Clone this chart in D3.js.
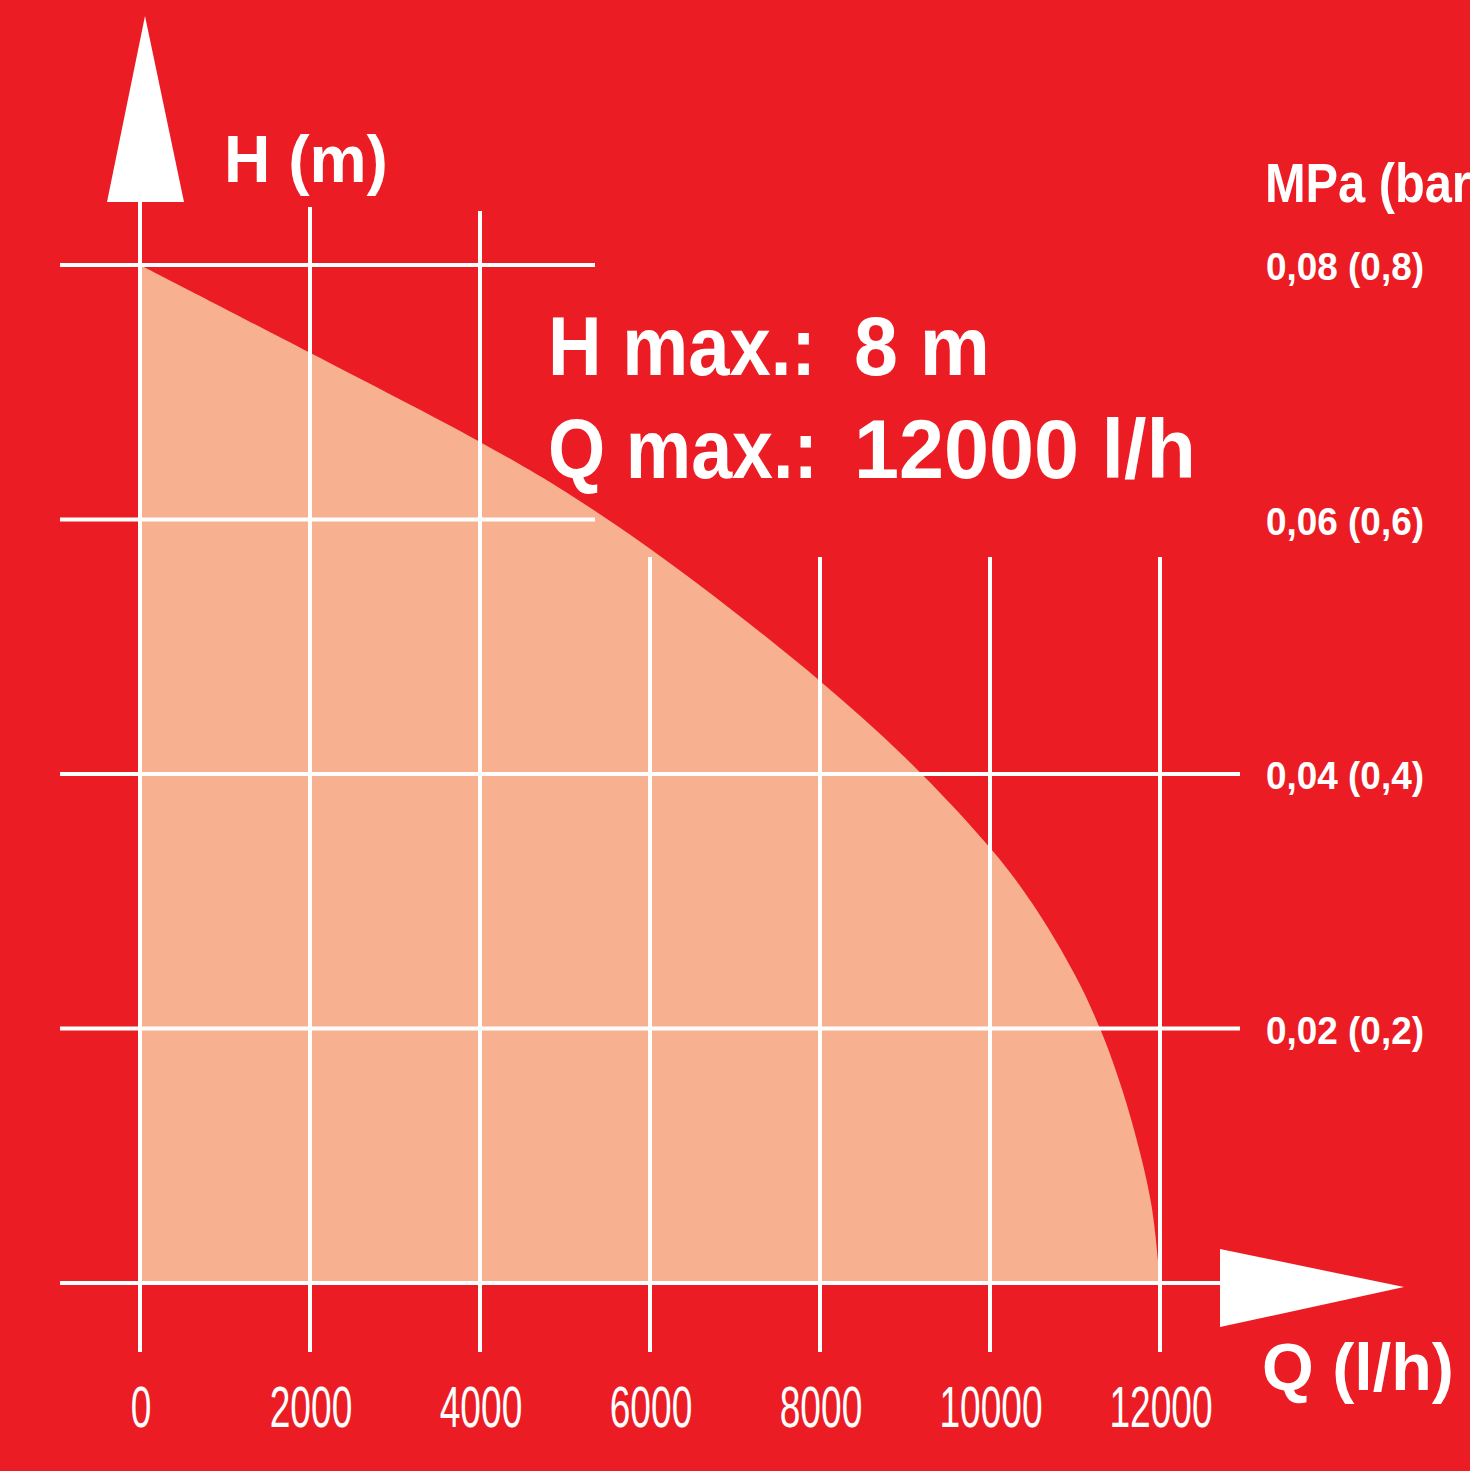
<!DOCTYPE html>
<html>
<head>
<meta charset="utf-8">
<script src="https://cdn.jsdelivr.net/npm/d3@7/dist/d3.min.js"></script>
<style>
  html, body { margin: 0; padding: 0; background: #EC1C24; }
  svg { display: block; }
  text { fill: #fff; font-family: "Liberation Sans", Arial, sans-serif; }
</style>
</head>
<body>
<svg id="chart" width="1470" height="1471"></svg>
<script>
// ---- data ----
const flowQ = [0, 2000, 4000, 5000, 6000, 7000, 8000, 9000, 10000, 10500, 11000, 11300, 11500, 11700, 11900, 12000];
const headH = [8.0, 7.31, 6.61, 6.22, 5.77, 5.27, 4.73, 4.13, 3.42, 2.98, 2.42, 1.99, 1.63, 1.19, 0.61, 0.0];
const xTicks = [0, 2000, 4000, 6000, 8000, 10000, 12000];
const xTickLabels = ["0", "2000", "4000", "6000", "8000", "10000", "12000"];
const hGrid = [8, 6, 4, 2, 0];
const pressureH = [8, 6, 4, 2];
const pressureLabels = ["0,08 (0,8)", "0,06 (0,6)", "0,04 (0,4)", "0,02 (0,2)"];
const yAxisTitle = "H (m)";
const xAxisTitle = "Q (l/h)";
const rightTitle = "MPa (bar)";
const infoLabels = ["H max.:", "Q max.:"];
const infoValues = ["8 m", "12000 l/h"];

// ---- layout ----
const RED = "#EC1C24", PEACH = "#F7B191", WHITE = "#FFFFFF";
const svg = d3.select("#chart");
svg.append("rect").attr("width", 1470).attr("height", 1471).attr("fill", RED);

const x = d3.scaleLinear().domain([0, 12000]).range([140, 1160]);
const y = d3.scaleLinear().domain([0, 8]).range([1283, 265]);

const pts = flowQ.map((q, i) => ({ q, h: headH[i] }));

// filled area under curve
const area = d3.area()
  .x(d => x(d.q))
  .y0(y(0))
  .y1(d => y(d.h))
  .curve(d3.curveCatmullRom.alpha(0.5));
svg.append("path").datum(pts).attr("d", area).attr("fill", PEACH);

// grid
const g = svg.append("g").attr("stroke", WHITE).attr("stroke-width", 4).attr("fill", "none");
g.selectAll("line.h").data(hGrid).join("line")
  .attr("x1", 60)
  .attr("x2", d => d >= 6 ? 595 : 1240)
  .attr("y1", d => y(d)).attr("y2", d => y(d));
g.selectAll("line.v").data(xTicks).join("line")
  .attr("x1", d => x(d)).attr("x2", d => x(d))
  .attr("y1", d => d === 0 ? 202 : d === 2000 ? 207 : d === 4000 ? 211 : 557)
  .attr("y2", 1352);

// arrows
svg.append("path")
  .attr("d", `M${x(0) + 5},16 L${x(0) + 44},202 L${x(0) - 33},202 Z`)
  .attr("fill", WHITE);
svg.append("path")
  .attr("d", `M1220,1249 L1404,1287 L1220,1327 Z`)
  .attr("fill", WHITE);

// fit helper: scale text horizontally to target width
function fitText(sel, tx, ty, width) {
  const len = sel.node().getComputedTextLength();
  const sx = width / len;
  sel.attr("x", 0).attr("y", 0).attr("transform", `translate(${tx},${ty}) scale(${sx},1)`);
  return sel;
}

// x tick labels
xTicks.forEach((t, i) => {
  const txt = svg.append("text").attr("text-anchor", "middle")
    .attr("font-size", 58).attr("font-weight", 400).text(xTickLabels[i]);
  txt.attr("x", 0).attr("y", 0).attr("transform", `translate(${x(t) + 1},1427) scale(0.64,1)`);
});

// right pressure labels
pressureH.forEach((h, i) => {
  const txt = svg.append("text").attr("font-size", 38).attr("font-weight", 700).text(pressureLabels[i]);
  fitText(txt, 1266, y(h) + 15, 158);
});

// titles
fitText(svg.append("text").attr("font-size", 67).attr("font-weight", 700).text(yAxisTitle), 224, 182, 164);
fitText(svg.append("text").attr("font-size", 67).attr("font-weight", 700).text(xAxisTitle), 1262, 1390, 192);
const mp = svg.append("text").attr("font-size", 56).attr("font-weight", 700).text(rightTitle);
mp.attr("x", 0).attr("y", 0).attr("transform", `translate(1265,202) scale(0.87,1)`);

// info block
const infoY = [375, 478];
const labelW = [268, 270];
const valueW = [136, 342];
infoLabels.forEach((l, i) => {
  fitText(svg.append("text").attr("font-size", 84).attr("font-weight", 700).text(l), 548, infoY[i], labelW[i]);
  fitText(svg.append("text").attr("font-size", 84).attr("font-weight", 700).text(infoValues[i]), 854, infoY[i], valueW[i]);
});
</script>
</body>
</html>
